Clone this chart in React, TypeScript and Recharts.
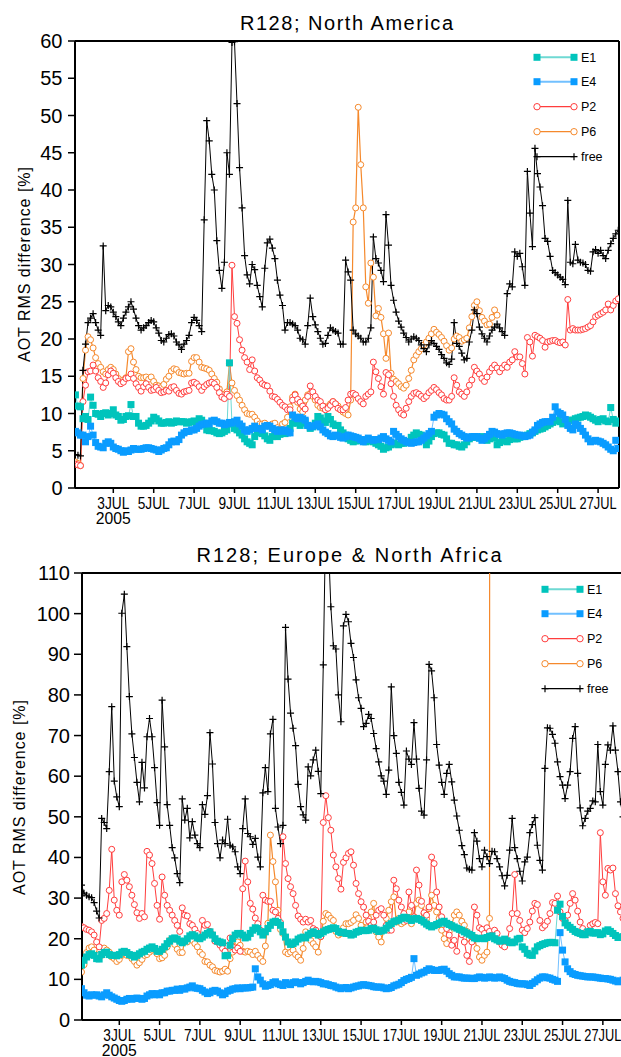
import React from "react";
import { LineChart, Line, XAxis, YAxis, ReferenceLine } from "recharts";

const FONT = '"Liberation Sans", Arial, Helvetica, sans-serif';
const NARROW = '"Liberation Sans Narrow", "Liberation Sans", Arial, sans-serif';

// 3-hourly analysis times as day of July 2005 (1.125 = 1 JUL 03Z), 8 values per day
const T_START = 1.125;
const T_STEP = 0.125;

const X_TICKS = [3, 5, 7, 9, 11, 13, 15, 17, 19, 21, 23, 25, 27];
const NA_Y_TICKS = [0, 5, 10, 15, 20, 25, 30, 35, 40, 45, 50, 55, 60];
const EU_Y_TICKS = [0, 10, 20, 30, 40, 50, 60, 70, 80, 90, 100, 110];

// ---------------- R128; North America ----------------
const naE1 = [
  12.5, 11.0, 10.9, 9.3, 9.6, 9.2, 12.2, 11.1,
  10.0, 9.9, 9.6, 10.0, 10.1, 9.8, 10.0, 10.5,
  9.8, 9.6, 9.1, 9.2, 9.6, 9.7, 11.2, 9.6,
  9.6, 8.7, 8.3, 8.3, 8.4, 8.7, 9.0, 9.5,
  9.3, 9.0, 8.7, 8.7, 8.8, 8.9, 8.7, 8.8,
  9.0, 8.9, 8.9, 8.9, 8.7, 8.8, 8.9, 9.0,
  8.8, 9.3, 9.1, 8.7, 7.8, 7.7, 7.7, 7.6,
  7.4, 7.3, 7.4, 7.6, 7.8, 16.8, 8.6, 8.0,
  7.8, 7.4, 7.1, 6.6, 6.2, 6.0, 5.8, 6.9,
  7.4, 7.6, 7.3, 7.0, 6.6, 6.4, 6.9, 7.1,
  6.9, 7.2, 7.4, 7.3, 7.4, 8.0, 8.7, 8.9,
  8.7, 8.4, 8.7, 8.9, 8.4, 8.0, 8.2, 8.7,
  9.6, 9.4, 9.0, 8.8, 9.6, 9.2, 8.6, 8.4,
  8.4, 7.8, 7.4, 7.1, 6.6, 6.4, 6.2, 6.3,
  6.4, 6.4, 6.3, 6.2, 6.4, 6.3, 6.2, 6.0,
  5.8, 5.6, 5.2, 5.4, 5.5, 5.8, 6.0, 5.9,
  5.8, 6.0, 6.0, 6.2, 6.2, 6.8, 7.1, 7.4,
  7.2, 7.1, 6.5, 5.8, 6.3, 6.9, 7.3, 7.4,
  7.4, 7.2, 7.1, 6.6, 6.0, 6.0, 5.8, 5.8,
  5.6, 5.5, 5.8, 6.2, 6.6, 6.8, 6.9, 6.8,
  6.7, 6.9, 6.7, 6.4, 6.6, 6.8, 6.7, 5.8,
  6.1, 6.4, 6.3, 6.2, 6.5, 6.7, 6.6, 6.6,
  6.8, 6.9, 7.0, 7.1, 7.3, 7.4, 7.6, 7.8,
  7.9, 8.0, 8.2, 8.4, 8.6, 8.8, 9.0, 9.1,
  8.9, 8.6, 8.8, 8.9, 9.1, 9.1, 9.3, 9.4,
  9.5, 9.6, 9.8, 9.7, 9.5, 9.3, 9.1, 8.9,
  9.2, 9.3, 9.0, 8.9, 10.8, 9.2, 8.7, 9.0,
];

const naE4 = [
  7.6, 7.4, 7.1, 7.1, 6.2, 6.9, 8.3, 7.1,
  6.1, 5.6, 5.5, 5.4, 6.0, 6.2, 6.0, 5.5,
  5.3, 5.2, 5.0, 4.8, 5.0, 4.9, 5.1, 5.3,
  5.2, 5.2, 5.2, 5.3, 5.4, 5.4, 5.3, 5.2,
  5.1, 4.9, 5.1, 5.3, 5.4, 5.8, 6.2, 6.3,
  6.2, 6.5, 7.1, 7.4, 7.6, 7.6, 7.8, 7.8,
  8.0, 8.3, 8.5, 8.6, 8.7, 8.6, 9.0, 9.1,
  8.9, 8.7, 8.7, 8.5, 8.6, 8.8, 8.7, 8.9,
  9.1, 8.6, 8.3, 7.8, 7.6, 7.8, 8.0, 8.3,
  8.0, 8.0, 7.8, 8.3, 8.4, 8.3, 8.0, 7.8,
  7.6, 7.8, 7.6, 7.8, 7.6, 7.4, 9.8, 9.5,
  9.3, 9.5, 9.3, 9.1, 8.4, 8.2, 8.3, 8.4,
  8.6, 8.2, 7.8, 7.5, 7.3, 7.0, 6.9, 7.1,
  7.0, 6.8, 6.7, 6.9, 7.1, 7.0, 6.9, 6.8,
  6.7, 6.5, 6.2, 6.5, 6.7, 6.5, 6.4, 6.5,
  6.5, 6.7, 6.9, 6.6, 6.4, 6.2, 7.6, 7.2,
  6.9, 6.6, 6.4, 6.2, 6.1, 6.0, 6.1, 6.2,
  6.2, 6.4, 6.7, 7.0, 7.3, 7.6, 9.5, 9.8,
  10.0, 9.9, 9.8, 9.3, 8.9, 8.6, 7.9, 7.6,
  7.3, 7.1, 6.9, 6.7, 6.8, 6.9, 6.9, 6.9,
  6.7, 6.4, 6.6, 6.9, 7.2, 7.6, 7.5, 7.3,
  7.2, 7.1, 7.3, 7.4, 7.4, 7.3, 7.2, 7.1,
  7.1, 7.0, 6.9, 7.0, 7.1, 7.5, 7.8, 8.4,
  8.6, 8.8, 8.9, 8.9, 8.9, 9.5, 10.9, 10.2,
  10.0, 9.8, 9.2, 8.4, 8.0, 7.8, 8.6, 8.4,
  8.0, 7.6, 7.1, 6.6, 6.2, 6.3, 6.4, 6.3,
  6.2, 6.0, 5.8, 5.5, 5.2, 5.0, 6.4, 5.3,
];

const naP2 = [
  3.2, 3.1, 3.0, 11.6, 13.8, 15.6, 15.7, 16.5,
  15.7, 14.8, 14.3, 13.5, 14.1, 15.2, 15.7, 15.4,
  14.8, 14.3, 14.0, 14.2, 14.7, 14.8, 15.3, 14.7,
  14.0, 13.5, 13.0, 13.6, 14.0, 13.5, 13.1, 13.2,
  13.5, 13.1, 12.8, 12.9, 13.1, 13.0, 13.5, 13.6,
  13.1, 12.7, 12.6, 12.9, 13.0, 13.1, 14.1, 14.2,
  14.0, 13.6, 13.1, 13.6, 13.9, 14.1, 14.2, 14.0,
  13.5, 12.8, 12.2, 12.0, 12.6, 12.3, 29.9, 23.0,
  22.1, 19.9, 18.5, 17.5, 16.9, 15.9, 17.2, 15.7,
  14.8, 14.5, 14.0, 13.8, 13.7, 13.0, 12.3, 12.2,
  11.9, 11.5, 11.1, 10.9, 10.5, 10.5, 11.8, 12.5,
  11.9, 11.5, 11.0, 10.6, 12.3, 13.7, 12.9, 12.3,
  11.8, 11.6, 11.0, 10.5, 10.7, 11.1, 11.6, 11.3,
  10.7, 10.5, 10.5, 10.8, 11.8, 12.6, 12.7, 12.5,
  12.0, 11.6, 11.3, 12.3, 12.6, 12.9, 16.9, 15.6,
  14.7, 13.6, 12.6, 15.5, 15.2, 14.0, 12.3, 11.1,
  10.5, 10.0, 9.8, 10.7, 11.6, 12.3, 12.7, 12.8,
  12.6, 12.3, 12.0, 12.3, 12.8, 13.1, 13.5, 13.2,
  12.8, 12.5, 12.0, 11.8, 11.8, 12.3, 14.8, 13.8,
  12.9, 12.6, 12.3, 12.9, 13.8, 14.5, 16.2, 15.7,
  15.3, 14.7, 14.3, 14.9, 15.6, 16.1, 16.5, 16.1,
  15.6, 16.1, 16.5, 16.2, 16.9, 17.2, 18.3, 17.6,
  17.6, 16.7, 15.3, 20.2, 19.6, 17.7, 20.5, 20.3,
  20.1, 19.8, 18.9, 19.6, 19.7, 19.8, 19.8, 19.6,
  19.5, 19.6, 19.2, 25.3, 21.2, 21.4, 21.2, 21.2,
  21.2, 21.3, 21.4, 21.6, 21.8, 22.3, 23.0, 23.2,
  23.4, 23.6, 23.9, 24.7, 23.9, 24.5, 25.1, 25.4,
];

// P6 stops after 22 JUL
const naP6 = [
  3.5, 3.3, 3.0, 14.7, 18.5, 20.3, 19.9, 18.8,
  17.5, 16.7, 16.2, 15.6, 15.3, 15.9, 16.2, 15.9,
  15.3, 14.7, 14.1, 14.5, 14.8, 18.3, 18.7, 16.9,
  15.9, 15.0, 14.8, 14.8, 14.9, 14.6, 14.9, 14.3,
  13.8, 13.7, 13.5, 13.9, 14.6, 15.0, 15.7, 16.0,
  15.9, 15.5, 15.4, 15.3, 15.4, 15.4, 17.0, 17.5,
  17.5, 16.9, 16.2, 16.1, 16.0, 15.8, 15.3, 14.7,
  14.2, 13.3, 12.6, 12.2, 12.9, 16.7, 14.1, 13.1,
  12.4, 11.8, 11.1, 10.5, 10.0, 9.9, 9.9, 9.5,
  9.0, 8.6, 8.6, 8.7, 8.4, 8.3, 8.6, 8.7,
  8.1, 7.9, 8.6, 8.8, 9.5, 10.9, 12.2, 12.6,
  11.5, 10.6, 10.2, 11.8, 12.5, 12.6, 12.3, 11.8,
  11.1, 10.8, 10.7, 10.9, 10.9, 11.3, 11.6, 11.3,
  11.0, 10.5, 10.2, 10.0, 9.8, 11.8, 35.7, 37.6,
  51.1, 43.4, 37.6, 27.0, 24.8, 30.2, 28.3, 23.1,
  24.1, 22.9, 20.7, 17.4, 20.8, 15.4, 14.6, 14.3,
  14.0, 13.6, 13.4, 13.8, 14.7, 15.8, 17.2, 17.8,
  18.3, 18.7, 19.2, 19.6, 20.1, 20.7, 21.3, 20.9,
  20.6, 20.2, 19.7, 19.1, 18.5, 18.8, 20.0, 20.4,
  20.2, 19.7, 19.9, 20.1, 21.5, 23.0, 24.5, 25.0,
  23.8, 22.9, 22.4, 21.9, 22.0, 22.9, 23.9, 23.2,
];

const naFree = [
  4.5, 4.4, 4.3, 15.8, 19.3, 22.2, 22.8, 23.4,
  22.2, 21.2, 20.5, 32.5, 23.8, 24.5, 24.3, 23.6,
  23.0, 22.3, 21.8, 22.8, 23.6, 24.3, 25.0, 24.0,
  22.8, 21.8, 21.2, 21.5, 21.8, 22.2, 22.5, 22.3,
  21.5, 20.8, 19.8, 19.6, 20.1, 20.6, 20.7, 20.4,
  19.6, 19.2, 18.6, 19.3, 19.8, 20.5, 22.2, 22.9,
  22.5, 21.8, 21.0, 36.0, 49.3, 46.6, 42.1, 40.0,
  33.2, 29.2, 26.8, 30.3, 45.0, 42.1, 59.8, 59.9,
  51.6, 43.0, 37.6, 31.2, 28.6, 27.4, 30.0, 29.3,
  27.2, 25.7, 24.3, 29.5, 32.9, 33.4, 32.2, 30.8,
  27.9, 25.9, 24.5, 21.2, 22.2, 22.2, 22.0, 21.8,
  21.2, 20.1, 19.9, 19.3, 21.8, 25.5, 23.0, 21.9,
  21.0, 20.1, 19.3, 19.4, 20.5, 21.5, 21.2, 21.0,
  20.8, 19.3, 19.3, 30.6, 29.0, 27.9, 21.2, 20.7,
  20.4, 20.1, 19.6, 19.6, 20.1, 21.5, 33.7, 30.8,
  30.2, 29.2, 27.7, 36.7, 32.6, 27.2, 25.2, 23.6,
  22.4, 21.6, 20.8, 20.2, 19.6, 20.0, 20.3, 20.1,
  19.8, 19.2, 18.7, 18.3, 19.2, 19.8, 19.4, 19.0,
  18.6, 17.9, 17.4, 16.8, 16.6, 17.3, 22.2, 19.4,
  19.0, 18.1, 17.2, 17.4, 19.6, 21.2, 23.9, 23.4,
  21.6, 20.7, 20.1, 19.6, 20.4, 21.2, 21.6, 22.0,
  21.5, 21.0, 20.5, 26.1, 27.4, 27.0, 31.7, 31.1,
  31.5, 29.7, 27.2, 42.5, 36.9, 32.4, 45.6, 42.2,
  40.4, 37.9, 33.5, 33.1, 31.1, 29.2, 28.9, 28.6,
  28.3, 28.0, 27.3, 38.6, 30.3, 30.1, 32.7, 30.6,
  30.3, 30.2, 30.0, 29.2, 29.1, 31.7, 32.0, 31.5,
  31.9, 31.2, 30.8, 31.9, 32.8, 33.5, 34.1, 34.6,
];

// ---------------- R128; Europe & North Africa ----------------
const euE1 = [
  13.5, 14.7, 15.5, 16.1, 16.3, 15.9, 15.1, 15.0,
  16.1, 16.6, 16.7, 16.1, 15.9, 15.9, 15.8, 16.1,
  16.7, 16.9, 16.6, 16.1, 15.9, 15.5, 15.9, 16.3,
  16.7, 16.9, 17.4, 17.7, 18.0, 17.6, 16.9, 16.9,
  17.4, 18.0, 18.8, 19.4, 20.0, 20.2, 19.9, 19.4,
  19.0, 19.4, 20.0, 20.7, 21.0, 20.7, 20.2, 20.0,
  20.4, 20.9, 21.3, 21.7, 20.9, 20.0, 19.4, 19.2,
  19.0, 15.8, 15.9, 18.4, 20.0, 20.9, 21.3, 21.3,
  20.9, 20.2, 20.4, 21.3, 22.1, 22.7, 22.5, 21.7,
  20.9, 21.7, 22.5, 23.3, 24.1, 24.3, 24.0, 23.3,
  21.7, 20.4, 19.2, 18.6, 18.8, 19.2, 19.9, 20.2,
  20.4, 20.2, 20.9, 21.3, 21.7, 21.3, 20.9, 21.3,
  21.7, 22.1, 22.3, 22.5, 22.7, 22.5, 21.8, 21.5,
  21.6, 21.3, 21.3, 20.9, 21.1, 21.6, 21.8, 22.1,
  22.0, 22.0, 22.1, 22.5, 22.6, 22.2, 21.8, 21.9,
  22.1, 22.6, 23.3, 23.7, 24.2, 24.4, 24.6, 25.0,
  25.3, 25.2, 24.9, 24.5, 24.9, 25.0, 24.8, 24.5,
  24.1, 23.6, 23.2, 22.9, 23.2, 23.5, 23.8, 24.1,
  24.3, 23.8, 23.5, 23.2, 22.9, 22.6, 22.3, 22.1,
  21.7, 21.4, 21.1, 20.8, 20.2, 20.0, 20.1, 20.1,
  20.0, 20.3, 20.6, 20.7, 20.0, 19.7, 19.4, 19.5,
  19.9, 19.5, 19.1, 19.0, 19.2, 19.9, 20.1, 18.0,
  17.4, 16.4, 16.0, 15.9, 17.0, 18.0, 18.3, 18.6,
  18.8, 19.0, 19.1, 19.1, 19.0, 27.0, 28.5, 25.5,
  23.9, 23.3, 22.8, 22.3, 21.8, 21.5, 21.3, 21.0,
  21.0, 21.7, 21.8, 21.4, 21.4, 21.5, 21.0, 21.2,
  21.9, 22.2, 21.8, 21.3, 20.8, 20.3, 20.4, 20.5,
];

const euE4 = [
  7.7, 6.7, 6.1, 5.9, 6.2, 6.1, 6.2, 5.9,
  5.7, 6.2, 6.7, 6.1, 5.7, 5.4, 5.1, 4.8,
  4.6, 4.8, 5.1, 5.3, 5.1, 5.3, 5.4, 5.3,
  5.1, 5.3, 5.9, 6.2, 6.5, 6.2, 6.5, 6.2,
  6.7, 6.7, 7.1, 7.1, 7.3, 7.3, 7.6, 7.3,
  7.7, 7.6, 7.9, 8.1, 8.4, 7.9, 7.8, 7.7,
  7.3, 6.9, 6.5, 6.7, 7.1, 7.3, 7.1, 6.7,
  6.2, 6.5, 7.1, 7.3, 7.6, 7.7, 7.9, 7.7,
  7.9, 7.9, 7.9, 8.0, 8.1, 12.6, 10.6, 9.8,
  8.9, 8.3, 8.5, 8.7, 9.2, 9.4, 8.9, 8.7,
  8.5, 9.2, 8.9, 8.7, 9.2, 9.4, 9.2, 8.9,
  9.2, 9.5, 9.8, 9.5, 9.4, 9.5, 9.4, 9.2,
  8.9, 8.9, 8.7, 8.5, 8.4, 8.1, 7.9, 7.7,
  7.9, 8.0, 7.7, 7.9, 8.1, 8.3, 8.4, 8.6,
  8.7, 8.6, 8.5, 8.4, 8.2, 8.1, 8.1, 8.1,
  7.9, 7.7, 7.8, 8.0, 8.4, 8.6, 8.8, 9.2,
  9.7, 10.0, 10.2, 10.5, 15.1, 11.0, 11.3, 11.6,
  11.8, 12.2, 12.6, 12.4, 12.2, 12.2, 12.2, 12.4,
  12.5, 12.0, 11.4, 11.0, 10.6, 10.6, 10.6, 10.4,
  10.3, 10.3, 10.3, 10.2, 10.2, 10.4, 10.6, 10.5,
  10.3, 10.4, 10.6, 10.5, 10.3, 10.4, 10.6, 10.4,
  10.2, 9.8, 9.5, 9.3, 9.2, 9.0, 8.9, 8.9,
  8.9, 8.7, 8.5, 9.0, 9.4, 9.9, 10.3, 10.6,
  10.6, 10.4, 10.3, 10.0, 9.8, 9.5, 21.5, 17.2,
  14.3, 12.6, 11.9, 11.4, 11.2, 11.0, 10.9, 10.8,
  10.7, 10.6, 10.6, 10.6, 10.5, 10.4, 10.3, 10.2,
  10.2, 10.1, 10.0, 9.8, 9.6, 9.4, 9.6, 9.8,
];

const euP2 = [
  23.0, 22.7, 22.3, 22.1, 21.7, 20.9, 19.2, 18.0,
  24.5, 25.0, 26.2, 31.9, 42.0, 29.5, 27.0, 25.8,
  34.0, 35.8, 34.4, 32.8, 30.7, 28.4, 26.4, 25.0,
  26.2, 25.4, 41.5, 40.6, 38.5, 33.6, 28.2, 24.8,
  35.2, 30.7, 28.2, 27.0, 25.8, 24.5, 23.3, 21.8,
  27.6, 25.8, 25.6, 23.7, 23.3, 22.3, 21.3, 20.2,
  24.5, 23.3, 23.5, 21.8, 21.0, 19.4, 19.2, 18.4,
  17.6, 16.9, 18.2, 20.2, 18.0, 17.2, 17.7, 16.9,
  32.3, 39.1, 34.0, 28.7, 27.3, 25.1, 23.7, 22.1,
  30.7, 29.5, 29.2, 29.2, 27.0, 26.6, 25.0, 24.0,
  45.1, 38.5, 34.8, 32.8, 31.1, 28.2, 25.6, 24.8,
  24.1, 24.8, 24.1, 24.5, 22.5, 22.1, 20.9, 20.5,
  48.6, 55.2, 49.8, 46.7, 40.6, 37.7, 34.8, 32.2,
  38.8, 39.9, 41.0, 41.4, 38.1, 33.6, 31.1, 29.1,
  27.8, 25.8, 24.3, 23.3, 24.1, 25.8, 27.0, 27.4,
  25.8, 23.3, 22.1, 22.1, 34.4, 32.3, 29.5, 27.8,
  26.2, 24.5, 31.5, 28.2, 25.4, 36.9, 33.2, 29.2,
  26.4, 25.8, 27.8, 40.1, 38.5, 31.5, 27.8, 25.4,
  24.1, 22.5, 20.9, 18.4, 19.6, 16.9, 22.5, 21.0,
  19.2, 15.9, 14.4, 19.2, 27.8, 25.8, 22.7, 22.3,
  21.3, 22.7, 21.8, 20.9, 22.1, 21.3, 19.2, 18.4,
  18.0, 19.4, 22.5, 26.2, 35.8, 26.2, 24.5, 22.1,
  21.5, 22.5, 24.1, 26.8, 28.7, 28.4, 24.5, 22.7,
  23.3, 24.3, 26.2, 28.9, 28.7, 30.5, 26.6, 25.0,
  24.5, 25.8, 28.7, 31.1, 29.5, 26.8, 24.1, 22.5,
  21.5, 21.5, 23.3, 23.7, 24.0, 23.7, 46.1, 34.0,
  30.7, 37.3, 36.9, 37.4, 31.1, 28.1, 26.6, 25.0,
];

// P6 ends on 21 JUL with an off-scale value (vertical line to the top)
const euP6 = [
  11.8, 13.6, 16.6, 17.7, 18.0, 17.2, 15.9, 16.1,
  15.9, 17.7, 17.2, 16.7, 15.5, 15.1, 14.4, 14.9,
  15.9, 16.3, 15.9, 15.9, 15.1, 14.4, 13.5, 14.1,
  14.9, 15.9, 16.1, 16.7, 17.2, 17.6, 16.3, 15.1,
  15.3, 15.9, 18.0, 19.6, 19.4, 18.6, 17.4, 16.6,
  16.6, 19.4, 19.2, 20.0, 19.6, 18.8, 18.0, 16.7,
  16.1, 14.4, 14.3, 13.5, 13.1, 12.2, 12.0, 11.8,
  12.0, 12.5, 12.0, 15.1, 16.7, 18.2, 19.2, 18.4,
  16.9, 16.7, 16.9, 16.7, 16.1, 16.9, 15.9, 15.1,
  14.4, 18.2, 23.8, 45.5, 39.0, 34.0, 27.0, 22.3,
  21.3, 16.7, 16.3, 16.7, 17.2, 16.1, 15.5, 14.7,
  17.6, 21.7, 20.4, 19.6, 18.8, 18.0, 16.7, 20.5,
  24.3, 26.2, 25.8, 25.0, 24.5, 21.8, 20.9, 21.3,
  22.7, 23.7, 23.7, 24.0, 24.5, 25.9, 25.0, 23.3,
  22.1, 24.1, 25.0, 26.6, 28.7, 21.7, 20.4, 19.2,
  22.1, 25.0, 27.0, 29.1, 30.3, 24.1, 25.0, 23.7,
  24.1, 25.4, 26.6, 23.7, 25.4, 28.7, 29.5, 28.2,
  26.2, 25.0, 27.4, 30.7, 28.2, 26.6, 25.0, 22.1,
  20.0, 18.8, 21.7, 23.3, 25.8, 26.6, 25.8, 24.3,
  23.3, 21.8, 20.0, 19.4, 20.4, 17.6, 15.5, 14.7,
  15.9, 16.7, 25.0, 2000,
];

const euFree = [
  33.2, 31.2, 30.7, 30.3, 30.1, 28.9, 26.8, 25.1,
  49.6, 48.6, 47.1, 61.1, 77.1, 58.8, 54.9, 52.5,
  100.1, 104.8, 91.9, 79.6, 70.4, 64.6, 58.5, 53.7,
  63.4, 57.1, 69.7, 74.2, 69.7, 62.1, 53.5, 47.9,
  78.7, 67.2, 53.0, 47.9, 42.4, 39.9, 36.0, 33.8,
  54.4, 49.2, 52.1, 44.8, 48.8, 45.5, 43.4, 42.4,
  53.0, 50.6, 55.2, 70.7, 63.0, 48.6, 43.4, 39.9,
  44.3, 43.4, 49.4, 43.0, 42.6, 41.4, 37.7, 36.0,
  47.1, 54.4, 45.9, 45.1, 43.2, 44.7, 40.1, 37.7,
  55.9, 62.1, 56.2, 70.4, 74.0, 52.1, 47.5, 43.4,
  47.9, 96.6, 83.9, 75.5, 71.8, 67.5, 58.0, 52.5,
  50.5, 49.2, 62.3, 60.1, 64.0, 66.4, 61.2, 55.7,
  87.4, 125.0, 118.0, 101.7, 92.1, 91.3, 80.0, 73.4,
  97.0, 99.8, 98.0, 92.7, 89.2, 83.7, 79.3, 76.7,
  72.2, 73.0, 75.2, 74.2, 70.5, 66.8, 63.5, 60.1,
  58.8, 55.5, 61.5, 82.0, 70.0, 65.6, 58.5, 56.0,
  52.9, 66.2, 64.2, 62.9, 73.2, 64.2, 57.0, 51.4,
  50.4, 64.0, 87.5, 85.9, 79.3, 67.8, 62.7, 58.5,
  55.5, 60.7, 62.9, 58.6, 54.1, 50.2, 46.7, 42.9,
  40.7, 37.4, 37.1, 36.9, 46.1, 44.0, 39.7, 37.7,
  41.8, 40.2, 38.5, 41.5, 41.4, 39.7, 37.7, 35.5,
  33.0, 35.6, 41.8, 49.6, 42.4, 39.7, 36.6, 34.2,
  38.9, 40.1, 46.1, 48.1, 49.8, 43.0, 39.3, 36.9,
  61.9, 71.9, 71.8, 70.3, 68.1, 63.5, 59.9, 57.8,
  54.5, 57.8, 61.1, 69.3, 72.2, 60.7, 52.2, 47.8,
  49.6, 51.4, 52.1, 53.9, 53.7, 67.8, 56.2, 52.9,
  62.9, 67.7, 66.4, 72.4, 66.4, 61.1, 53.7, 50.0,
];

const COLORS = {
  e1: "#00c4bc",
  e1Line: "#6fd9d3",
  e4: "#0a9cff",
  e4Line: "#72c0ff",
  p2: "#ff3d3d",
  p6: "#f5892c",
  free: "#000000",
};

function makeRows(cols: Record<string, number[]>) {
  const n = Math.max(...Object.values(cols).map((a) => a.length));
  const rows: Record<string, number | null>[] = [];
  for (let i = 0; i < n; i++) {
    const r: Record<string, number | null> = { t: T_START + i * T_STEP };
    for (const k of Object.keys(cols)) r[k] = i < cols[k].length ? cols[k][i] : null;
    rows.push(r);
  }
  return rows;
}

const naRows = makeRows({ e1: naE1, e4: naE4, p2: naP2, p6: naP6, free: naFree });
const euRows = makeRows({ e1: euE1, e4: euE4, p2: euP2, p6: euP6, free: euFree });

// --- marker renderers ---
const squareDot = (fill: string) => (p: any) => {
  const { cx, cy, index } = p;
  if (cx == null || cy == null || p.value == null) return <g key={`sq-${index}`} />;
  return <rect key={`sq-${index}`} x={cx - 3.5} y={cy - 3.5} width={7} height={7} fill={fill} />;
};

const circleDot = (stroke: string) => (p: any) => {
  const { cx, cy, index } = p;
  if (cx == null || cy == null || p.value == null) return <g key={`ci-${index}`} />;
  return <circle key={`ci-${index}`} cx={cx} cy={cy} r={3} fill="#fff" stroke={stroke} strokeWidth={1} />;
};

const plusDot = (p: any) => {
  const { cx, cy, index } = p;
  if (cx == null || cy == null || p.value == null) return <g key={`pl-${index}`} />;
  return (
    <path
      key={`pl-${index}`}
      d={`M${cx - 3.5},${cy}H${cx + 3.5}M${cx},${cy - 3.5}V${cy + 3.5}`}
      stroke="#000"
      strokeWidth={1.2}
    />
  );
};

const XTick = (props: any) => {
  const { x, y, payload } = props;
  const label = `${payload.value}JUL`;
  return (
    <g>
      <text
        x={x}
        y={y + 16}
        textAnchor="middle"
        fontSize={16}
        fontFamily={NARROW}
        fill="#000"
        textLength={label.length > 4 ? 37 : 32}
        lengthAdjust="spacingAndGlyphs"
      >
        {label}
      </text>
      {payload.value === 3 && (
        <text x={x} y={y + 30.5} textAnchor="middle" fontSize={16} fontFamily={NARROW} fill="#000" textLength={35} lengthAdjust="spacingAndGlyphs">
          2005
        </text>
      )}
    </g>
  );
};

const YTick = (props: any) => {
  const { x, y, payload, shift } = props;
  return (
    <text x={x - shift} y={y + 7} textAnchor="end" fontSize={20} fontFamily={FONT} fill="#000">
      {payload.value}
    </text>
  );
};

interface PanelProps {
  rows: Record<string, number | null>[];
  width: number;
  height: number;
  top: number;
  bottom: number;
  yAxisWidth: number;
  yTickLen: number;
  yLabelShift: number;
  xDomain: [number, number];
  yMax: number;
  yTicks: number[];
}

function Panel({ rows, width, height, top, bottom, yAxisWidth, yTickLen, yLabelShift, xDomain, yMax, yTicks }: PanelProps) {
  return (
    <LineChart width={width} height={height} data={rows} margin={{ top, right: 2, left: 0, bottom }}>
      <XAxis
        dataKey="t"
        type="number"
        domain={xDomain}
        ticks={X_TICKS}
        interval={0}
        allowDataOverflow
        height={30}
        tickSize={5}
        tickMargin={0}
        axisLine={{ stroke: "#000", strokeWidth: 2 }}
        tickLine={{ stroke: "#000", strokeWidth: 1.5 }}
        tick={<XTick />}
      />
      <YAxis
        type="number"
        domain={[0, yMax]}
        ticks={yTicks}
        interval={0}
        allowDataOverflow
        width={yAxisWidth}
        tickSize={yTickLen}
        tickMargin={0}
        axisLine={{ stroke: "#000", strokeWidth: 2 }}
        tickLine={{ stroke: "#000", strokeWidth: 1.5 }}
        tick={<YTick shift={yLabelShift} />}
      />
      <ReferenceLine y={yMax} stroke="#000" strokeWidth={2} />
      <ReferenceLine x={xDomain[1]} stroke="#000" strokeWidth={2} />
      <Line type="linear" dataKey="p6" stroke={COLORS.p6} strokeWidth={1.2} dot={circleDot(COLORS.p6)} activeDot={false} isAnimationActive={false} />
      <Line type="linear" dataKey="p2" stroke={COLORS.p2} strokeWidth={1} dot={circleDot(COLORS.p2)} activeDot={false} isAnimationActive={false} />
      <Line type="linear" dataKey="e1" stroke={COLORS.e1Line} strokeWidth={1} dot={squareDot(COLORS.e1)} activeDot={false} isAnimationActive={false} />
      <Line type="linear" dataKey="e4" stroke={COLORS.e4Line} strokeWidth={1} dot={squareDot(COLORS.e4)} activeDot={false} isAnimationActive={false} />
      <Line type="linear" dataKey="free" stroke={COLORS.free} strokeWidth={1} dot={plusDot} activeDot={false} isAnimationActive={false} />
    </LineChart>
  );
}

const LEGEND_ITEMS = [
  { label: "E1", kind: "square", color: COLORS.e1, line: COLORS.e1Line },
  { label: "E4", kind: "square", color: COLORS.e4, line: COLORS.e4Line },
  { label: "P2", kind: "circle", color: COLORS.p2, line: COLORS.p2 },
  { label: "P6", kind: "circle", color: COLORS.p6, line: COLORS.p6 },
  { label: "free", kind: "plus", color: "#000", line: "#000" },
];

function LegendBlock({ x1, x2, tx, rows }: { x1: number; x2: number; tx: number; rows: number[] }) {
  const marker = (kind: string, color: string, cx: number, cy: number) => {
    if (kind === "square") return <rect x={cx - 3.5} y={cy - 3.5} width={7} height={7} fill={color} />;
    if (kind === "circle") return <circle cx={cx} cy={cy} r={3.2} fill="#fff" stroke={color} strokeWidth={1} />;
    return <path d={`M${cx - 3.5},${cy}H${cx + 3.5}M${cx},${cy - 3.5}V${cy + 3.5}`} stroke={color} strokeWidth={1.2} />;
  };
  return (
    <g>
      {LEGEND_ITEMS.map((it, i) => (
        <g key={it.label}>
          <line x1={x1} x2={x2} y1={rows[i]} y2={rows[i]} stroke={it.line} strokeWidth={it.kind === "square" ? 2 : 1.2} />
          {marker(it.kind, it.color, x1, rows[i])}
          {marker(it.kind, it.color, x2, rows[i])}
          <text x={tx} y={rows[i] + 4.5} fontSize={12.5} fontFamily={FONT} fill="#000">
            {it.label}
          </text>
        </g>
      ))}
    </g>
  );
}

export default function App() {
  return (
    <div style={{ position: "absolute", left: 0, top: 0, width: 621, height: 1057, overflow: "hidden", background: "#fff" }}>
      <div style={{ position: "absolute", left: 0, top: 0 }}>
        <Panel
          rows={naRows}
          width={621}
          height={530}
          top={41}
          bottom={12}
          yAxisWidth={75}
          yTickLen={7}
          yLabelShift={5.5}
          xDomain={[1.104, 28.035]}
          yMax={60}
          yTicks={NA_Y_TICKS}
        />
      </div>
      <div style={{ position: "absolute", left: 0, top: 530 }}>
        <Panel
          rows={euRows}
          width={625}
          height={527}
          top={43}
          bottom={7}
          yAxisWidth={82}
          yTickLen={8}
          yLabelShift={4}
          xDomain={[1.149, 28.0]}
          yMax={110}
          yTicks={EU_Y_TICKS}
        />
      </div>
      <svg width={621} height={1057} style={{ position: "absolute", left: 0, top: 0, pointerEvents: "none" }}>
        <text x={346.5} y={30} textAnchor="middle" fontSize={20} fontFamily={FONT} textLength={213} lengthAdjust="spacing">
          R128;  North  America
        </text>
        <text x={349} y={562} textAnchor="middle" fontSize={20} fontFamily={FONT} textLength={305} lengthAdjust="spacing">
          R128;  Europe  &amp;  North  Africa
        </text>
        <text x={30} y={264.5} textAnchor="middle" fontSize={16} fontFamily={FONT} textLength={195} lengthAdjust="spacing" transform="rotate(-90 30 264.5)">
          AOT  RMS  difference  [%]
        </text>
        <text x={24.5} y={797.5} textAnchor="middle" fontSize={16} fontFamily={FONT} textLength={195} lengthAdjust="spacing" transform="rotate(-90 24.5 797.5)">
          AOT  RMS  difference  [%]
        </text>
        <LegendBlock x1={537} x2={574} tx={581} rows={[57.3, 81.7, 106.7, 131.7, 156.7]} />
        <LegendBlock x1={545} x2={580} tx={587} rows={[589.3, 613.7, 638.7, 663.7, 688.7]} />
      </svg>
    </div>
  );
}
